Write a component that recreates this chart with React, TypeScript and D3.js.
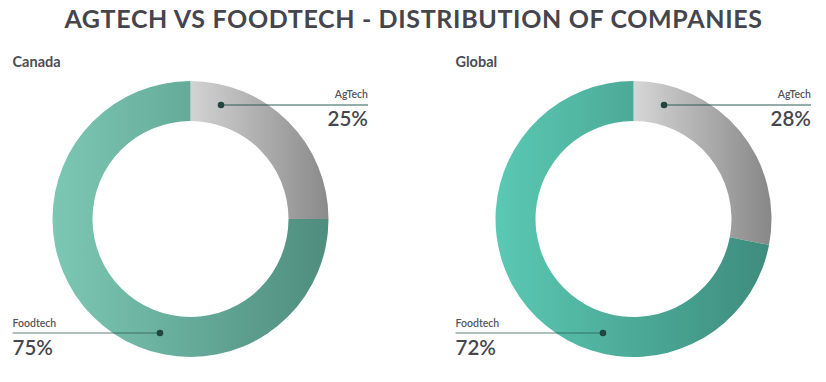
import React from "react";
import * as d3 from "d3";

const categories = ["AgTech", "Foodtech"];
const regions = ["Canada", "Global"];
const canadaValues = [25, 75];
const globalValues = [28, 72];
const title = "AGTECH VS FOODTECH - DISTRIBUTION OF COMPANIES";

const W = 826;
const H = 382;

const palettes = [
  { ag: ["#d3d3d3", "#8a8a8a"], food: ["#7cc8b4", "#4f8d7e"] },
  { ag: ["#d6d6d6", "#878787"], food: ["#5ac9b3", "#3e8c7d"] },
];

function Donut({ idx, values, cx, cy, labelLeft, labelRight, name }) {
  const outer = 138;
  const inner = 98;
  const mid = (outer + inner) / 2;
  const pie = d3.pie<number>().sort(null).value((d) => d);
  const arcs = pie(values);
  const arc = d3.arc<any>().innerRadius(inner).outerRadius(outer);
  const pal = palettes[idx];
  const agAngle = (15 * Math.PI) / 180;
  const foodAngle = (195 * Math.PI) / 180;
  const agDot = [cx + mid * Math.sin(agAngle), cy - mid * Math.cos(agAngle)];
  const foodDot = [cx + mid * Math.sin(foodAngle), cy - mid * Math.cos(foodAngle)];
  const fmt = (v: number) => `${v}%`;
  return (
    <g>
      <defs>
        <linearGradient id={`ag${idx}`} x1="0" x2="1" y1="0" y2="0">
          <stop offset="0" stopColor={pal.ag[0]} />
          <stop offset="1" stopColor={pal.ag[1]} />
        </linearGradient>
        <linearGradient id={`food${idx}`} x1="0" x2="1" y1="0" y2="0">
          <stop offset="0" stopColor={pal.food[0]} />
          <stop offset="1" stopColor={pal.food[1]} />
        </linearGradient>
      </defs>
      <text x={labelLeft} y={67} fontFamily="Lato" fontWeight={700} fontSize={14.5} fill="#4d4d55">
        {name}
      </text>
      <g transform={`translate(${cx},${cy})`}>
        <path d={arc(arcs[0]) as string} fill={`url(#ag${idx})`} />
        <path d={arc(arcs[1]) as string} fill={`url(#food${idx})`} />
      </g>
      <line x1={agDot[0]} y1={agDot[1]} x2={labelRight} y2={agDot[1]} stroke="#2c5c52" strokeWidth={1.2} />
      <circle cx={agDot[0]} cy={agDot[1]} r={3.3} fill="#1f4740" />
      <text x={labelRight} y={agDot[1] - 7} textAnchor="end" fontFamily="Lato" fontWeight={600} fontSize={10.5} fill="#55555c">
        {categories[0]}
      </text>
      <text x={labelRight} y={agDot[1] + 21} textAnchor="end" fontFamily="Lato" fontWeight={600} fontSize={20.5} fill="#46464e">
        {fmt(values[0])}
      </text>
      <line x1={labelLeft} y1={foodDot[1]} x2={foodDot[0]} y2={foodDot[1]} stroke="#2c5c52" strokeOpacity={0.75} strokeWidth={1.2} />
      <circle cx={foodDot[0]} cy={foodDot[1]} r={3.3} fill="#1f4740" />
      <text x={labelLeft} y={foodDot[1] - 6} fontFamily="Lato" fontWeight={600} fontSize={10.5} fill="#55555c">
        {categories[1]}
      </text>
      <text x={labelLeft} y={foodDot[1] + 22} fontFamily="Lato" fontWeight={600} fontSize={20.5} fill="#46464e">
        {fmt(values[1])}
      </text>
    </g>
  );
}

export default function App() {
  return (
    <svg width={W} height={H} style={{ position: "absolute", left: 0, top: 0, background: "#fff" }}>
      <rect width={W} height={H} fill="#fff" />
      <text x={W / 2 + 0.5} y={28.3} textAnchor="middle" fontFamily="Lato" fontWeight={700} fontSize={25} letterSpacing={0.65} fill="#45454d">
        {title}
      </text>
      <Donut idx={0} name={regions[0]} values={canadaValues} cx={190.5} cy={219} labelLeft={12.5} labelRight={368} />
      <Donut idx={1} name={regions[1]} values={globalValues} cx={633.5} cy={219} labelLeft={455.5} labelRight={811} />
    </svg>
  );
}
